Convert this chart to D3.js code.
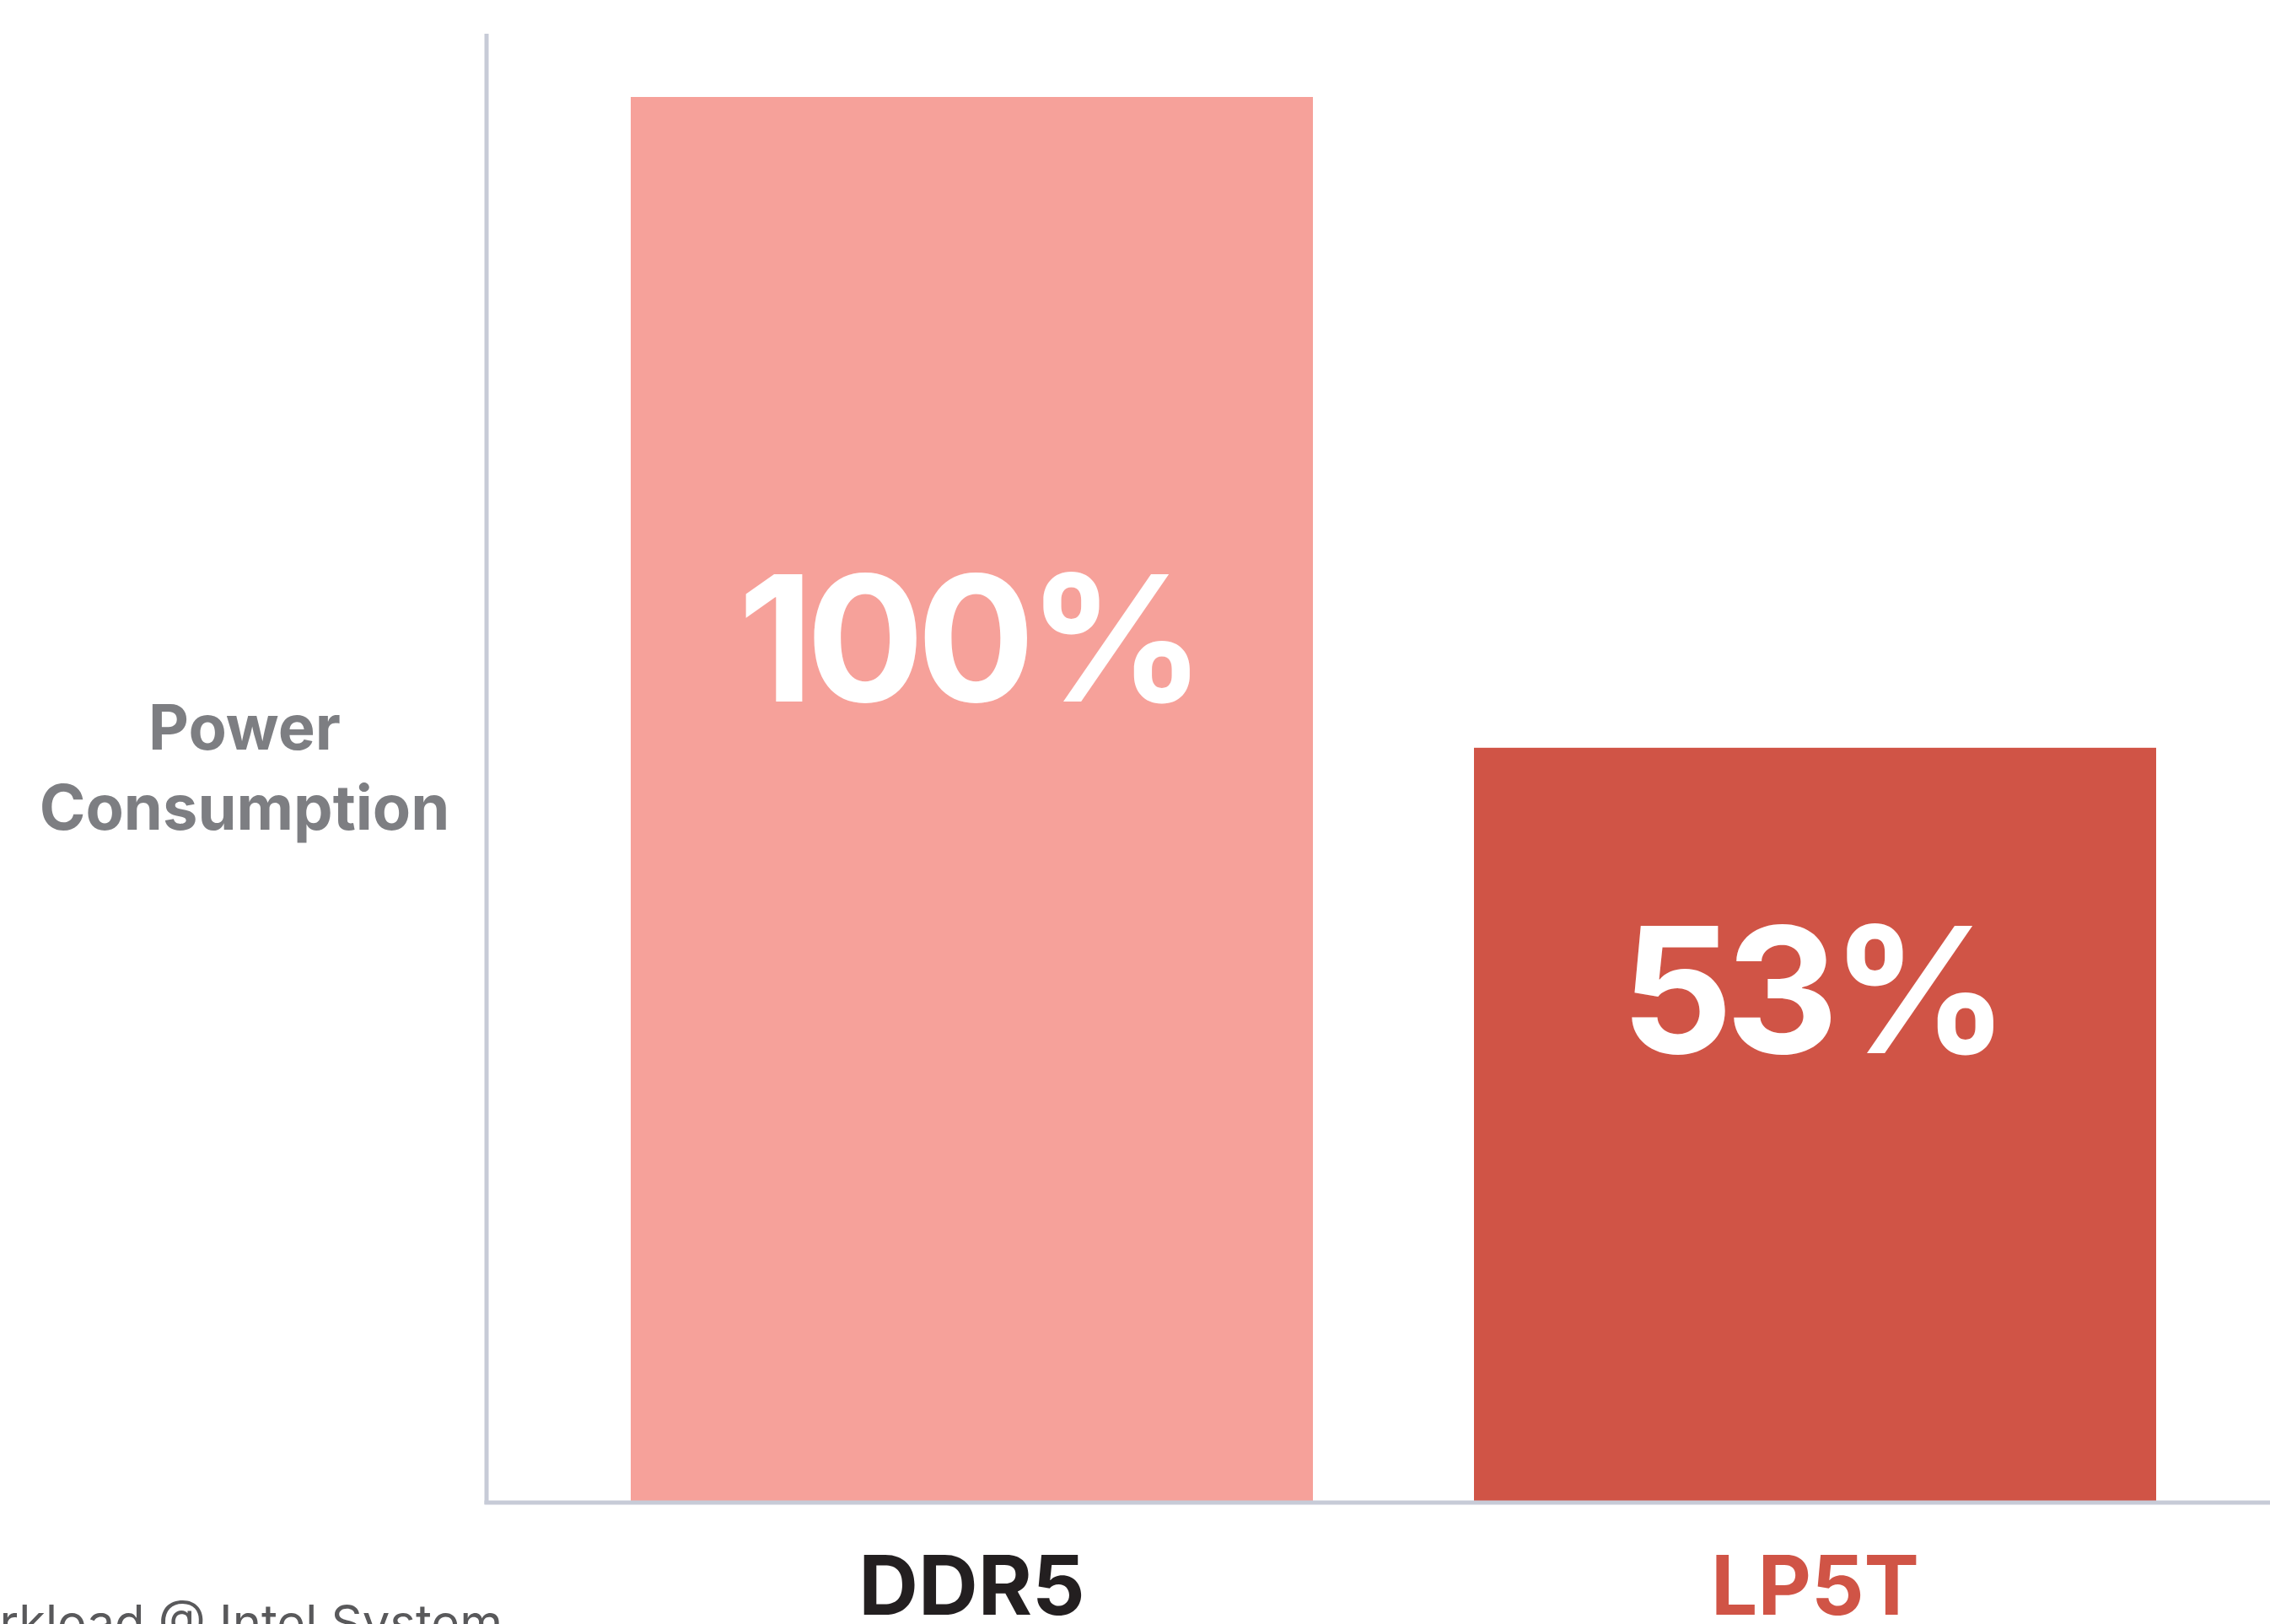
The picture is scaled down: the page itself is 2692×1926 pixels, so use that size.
<!DOCTYPE html>
<html>
<head>
<meta charset="utf-8">
<script src="https://cdn.jsdelivr.net/npm/d3@7"></script>
<style>
  html, body { margin: 0; padding: 0; background: #fff; overflow: hidden; }
  svg { display: block; font-family: Inter, "Noto Sans", sans-serif; }
</style>
</head>
<body>
<div id="chart"></div>
<script>
var categories = ["DDR5", "LP5T"];
var values = [100, 53.7];
var valueLabels = ["100%", "53%"];
var barColors = ["#f6a19a", "#d05446"];
var categoryColors = ["#231f20", "#d05446"];

var width = 2692, height = 1926;

var svg = d3.select("#chart").append("svg")
    .attr("width", width)
    .attr("height", height);

var x = d3.scaleBand()
    .domain(categories)
    .range([557, 2748])
    .paddingInner(0.191)
    .paddingOuter(0.191);

var y = d3.scaleLinear()
    .domain([0, 100])
    .range([1782, 115]);

// bars
svg.append("g").classed("bars", true)
    .selectAll("rect")
    .data(categories)
    .join("rect")
    .attr("x", function (d) { return x(d); })
    .attr("y", function (d, i) { return y(values[i]); })
    .attr("width", x.bandwidth())
    .attr("height", function (d, i) { return y(0) - y(values[i]); })
    .attr("fill", function (d, i) { return barColors[i]; });

// axis lines (drawn over the bars' bottom edge)
var axisColor = "#c7cbd7";
svg.append("line")
    .attr("x1", 577).attr("x2", 577)
    .attr("y1", 40).attr("y2", y(0) + 2)
    .attr("stroke", axisColor)
    .attr("stroke-width", 5);
svg.append("line")
    .attr("x1", 574.5).attr("x2", width)
    .attr("y1", y(0)).attr("y2", y(0))
    .attr("stroke", axisColor)
    .attr("stroke-width", 5);

// value labels inside the bars
var labelSpacing = -9;
svg.append("g").classed("value-labels", true)
    .selectAll("text")
    .data(categories)
    .join("text")
    .attr("x", function (d) { return x(d) + x.bandwidth() / 2 + labelSpacing / 2; })
    .attr("y", function (d, i) {
        var top = y(values[i]), h = y(0) - top;
        return top + 0.46 * h - 125 + 75; // centre of the label, then to baseline
    })
    .attr("text-anchor", "middle")
    .attr("font-size", 208)
    .attr("font-weight", 700)
    .attr("letter-spacing", labelSpacing)
    .attr("fill", "#fff")
    .text(function (d, i) { return valueLabels[i]; });

// category labels
svg.append("g").classed("category-labels", true)
    .selectAll("text")
    .data(categories)
    .join("text")
    .attr("x", function (d) { return x(d) + x.bandwidth() / 2; })
    .attr("y", 1915)
    .attr("text-anchor", "middle")
    .attr("font-size", 98)
    .attr("font-weight", 700)
    .attr("fill", function (d, i) { return categoryColors[i]; })
    .text(function (d) { return d; });

// y axis title
var title = svg.append("text")
    .attr("text-anchor", "middle")
    .attr("font-size", 74)
    .attr("font-weight", 700)
    .attr("fill", "#7d7e82");
title.append("tspan").attr("x", 290).attr("y", 889).text("Power");
title.append("tspan").attr("x", 290).attr("y", 984).text("Consumption");

// footnote, cut off by the picture edges
svg.append("text")
    .attr("x", 596)
    .attr("y", 1945)
    .attr("text-anchor", "end")
    .attr("font-size", 58)
    .attr("fill", "#59595b")
    .text("Workload @ Intel System");
</script>
</body>
</html>
